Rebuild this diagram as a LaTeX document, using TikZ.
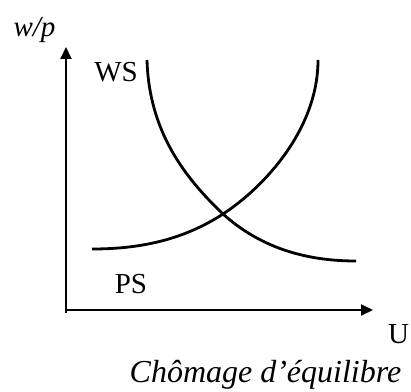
\documentclass[tikz,border=0pt]{standalone}
\usepackage{fontspec}
\setmainfont{Liberation Serif}
\usetikzlibrary{arrows.meta}

\begin{document}
\begin{tikzpicture}[x=1pt,y=1pt]
  \tikzset{axe/.style={line width=1.8pt,-{Triangle[length=12pt,width=11pt]}},
           courbe/.style={line width=2.8pt},
           lbl/.style={inner sep=0pt,anchor=base,font=\fontsize{29}{29}\selectfont}}
  \useasboundingbox (0,0) rectangle (411,391);
  % axes
  \coordinate (Yb) at (66,78);  \coordinate (Yt) at (66,344);
  \coordinate (Xl) at (65,81);  \coordinate (Xr) at (373,81);
  \draw[axe] (Yb) -- (Yt);
  \draw[axe] (Xl) -- (Xr);
  % courbes WS et PS, se coupent en E
  \coordinate (E) at (223,177);
  \coordinate (WSa) at (147,331); \coordinate (WSb) at (356,130);
  \coordinate (PSa) at (92,142);  \coordinate (PSb) at (318,331);
  \draw[courbe] (WSa) .. controls (149,261) and (183,215) .. (E)
                      .. controls (263,141) and (310,130) .. (WSb);
  \draw[courbe] (PSa) .. controls (140,142) and (183,151) .. (E)
                      .. controls (263,203) and (318,261) .. (PSb);
  % textes
  \node[lbl] (wp) at (34.5,354) {\textit{w/p}};
  \node[lbl] (ws) at (116,309) {WS};
  \node[lbl] (ps) at (131,98) {PS};
  \node[lbl] (u) at (398.5,48) {U};
  \node[lbl,font=\fontsize{32}{32}\selectfont] (titre) at (265.5,9) {\textit{Chômage d’équilibre}};
\end{tikzpicture}
\end{document}
